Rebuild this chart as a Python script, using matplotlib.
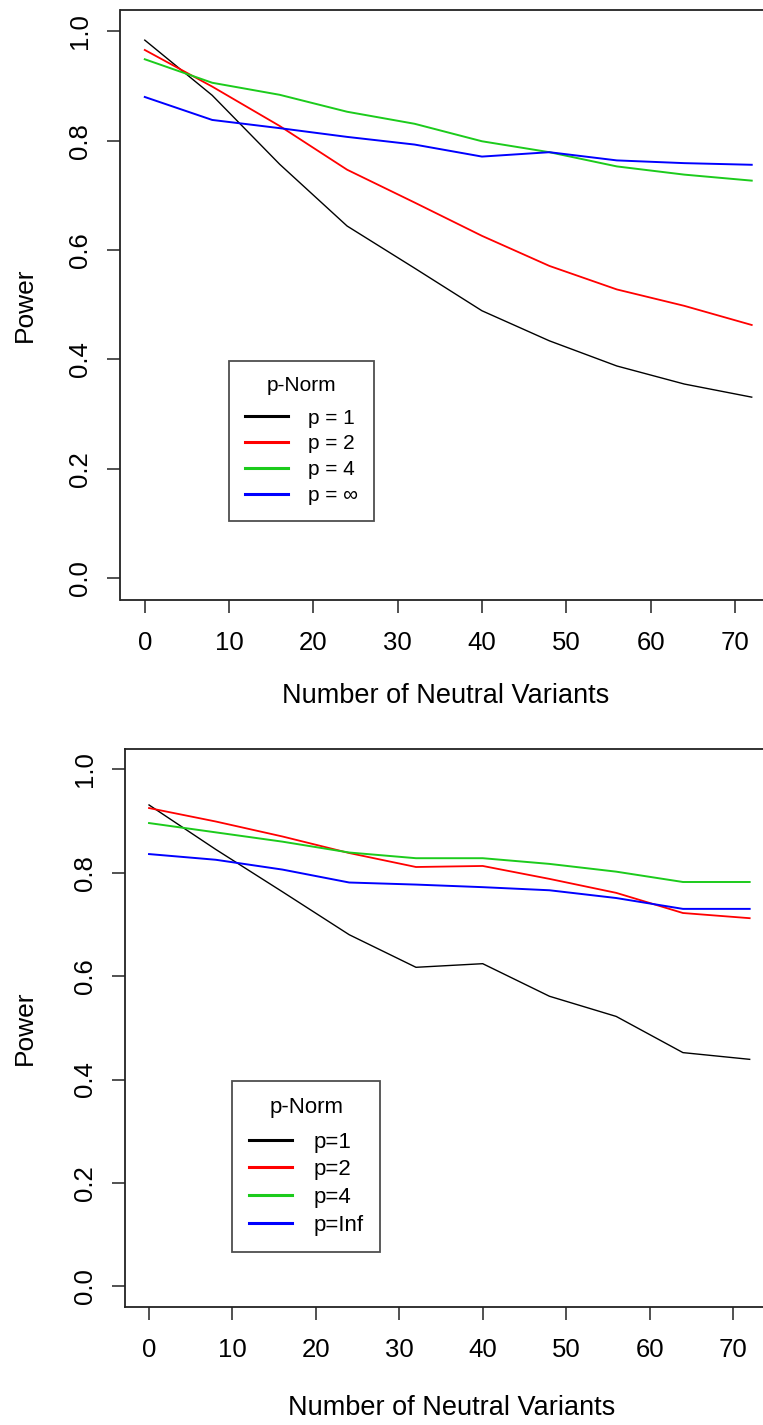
import matplotlib
matplotlib.use('Agg')
import matplotlib.pyplot as plt
from matplotlib.lines import Line2D

plt.rcParams['font.family'] = ['Liberation Sans', 'DejaVu Sans']

# number of neutral variants
n_neutral = [0, 8, 16, 24, 32, 40, 48, 56, 64, 72]

# top panel: power per p-norm
top_p1 = [0.984, 0.883, 0.757, 0.644, 0.567, 0.489, 0.434, 0.388, 0.355, 0.331]
top_p2 = [0.966, 0.899, 0.827, 0.747, 0.687, 0.626, 0.571, 0.528, 0.498, 0.463]
top_p4 = [0.949, 0.906, 0.884, 0.853, 0.831, 0.799, 0.779, 0.753, 0.738, 0.727]
top_pinf = [0.880, 0.838, 0.823, 0.807, 0.793, 0.771, 0.779, 0.764, 0.759, 0.756]
top_labels = ['p = 1', 'p = 2', 'p = 4', 'p = \u221e']

# bottom panel
bot_p1 = [0.931, 0.845, 0.763, 0.680, 0.617, 0.624, 0.561, 0.522, 0.452, 0.439]
bot_p2 = [0.925, 0.899, 0.870, 0.838, 0.811, 0.813, 0.788, 0.761, 0.722, 0.712]
bot_p4 = [0.896, 0.878, 0.860, 0.839, 0.828, 0.828, 0.817, 0.802, 0.782, 0.782]
bot_pinf = [0.836, 0.825, 0.806, 0.781, 0.777, 0.772, 0.766, 0.751, 0.730, 0.730]
bot_labels = ['p=1', 'p=2', 'p=4', 'p=Inf']

colors = ['black', '#ff0000', '#1ccb1c', '#0000ff']
widths = [1.0, 1.3, 1.4, 1.4]

W, H = 763, 1425
fig = plt.figure(figsize=(W / 100, H / 100), dpi=100)


def px_axes(left, top, right, bottom):
    return fig.add_axes([left / W, 1 - bottom / H, (right - left) / W, (bottom - top) / H])


def style_axes(ax):
    ax.set_xlim(-2.88, 74.88)
    ax.set_ylim(-0.04, 1.04)
    ax.set_xticks(range(0, 71, 10))
    ax.set_yticks([0.0, 0.2, 0.4, 0.6, 0.8, 1.0])
    ax.set_yticklabels(['0.0', '0.2', '0.4', '0.6', '0.8', '1.0'], rotation=90, va='center')
    ax.spines['right'].set_visible(False)
    for s in ['top', 'left', 'bottom']:
        ax.spines[s].set_linewidth(1.3)
        ax.spines[s].set_color('#222222')
    ax.tick_params(direction='out', length=9.5, width=1.1, labelsize=18.5, color='#222222')
    ax.tick_params(axis='x', pad=13)
    ax.tick_params(axis='y', pad=11)


def add_legend(ax, labels, left, top, size, hlen, ls, title_sep):
    handles = [Line2D([], [], color=c, linewidth=2.2) for c in colors]
    leg = ax.legend(handles, labels, title='p-Norm', loc='upper left',
                    bbox_to_anchor=(left / W, 1 - top / H), bbox_transform=fig.transFigure,
                    borderaxespad=0, fontsize=size, title_fontsize=size, frameon=True,
                    fancybox=False, edgecolor='#222222', borderpad=0.75,
                    handlelength=hlen, handletextpad=0.95, labelspacing=ls)
    leg.get_frame().set_linewidth(1.3)
    # R puts more room between the legend title and the first entry
    leg._legend_box.sep = title_sep
    return leg


# top panel
ax1 = px_axes(120.5, 9.5, 776, 600)
for ys, c, lw in zip([top_p1, top_p2, top_p4, top_pinf], colors, widths):
    ax1.plot(n_neutral, ys, color=c, linewidth=lw)
style_axes(ax1)
add_legend(ax1, top_labels, 229, 360.7, 15, 2.1, 0.33, 9.5)

fig.text(25 / W, 1 - 305 / H, 'Power', rotation=90, ha='center', va='center', fontsize=19)
fig.text(446 / W, 1 - 696 / H, 'Number of Neutral Variants', ha='center', va='center', fontsize=19.5)

# bottom panel
ax2 = px_axes(125, 748.6, 773.7, 1307)
for ys, c, lw in zip([bot_p1, bot_p2, bot_p4, bot_pinf], colors, widths):
    ax2.plot(n_neutral, ys, color=c, linewidth=lw)
style_axes(ax2)
add_legend(ax2, bot_labels, 232.4, 1080.7, 16, 1.95, 0.3, 9.5)

fig.text(25 / W, 1 - 1028 / H, 'Power', rotation=90, ha='center', va='center', fontsize=19)
fig.text(452 / W, 1 - 1408 / H, 'Number of Neutral Variants', ha='center', va='center', fontsize=19.5)

fig.savefig('out.png', dpi=100)
